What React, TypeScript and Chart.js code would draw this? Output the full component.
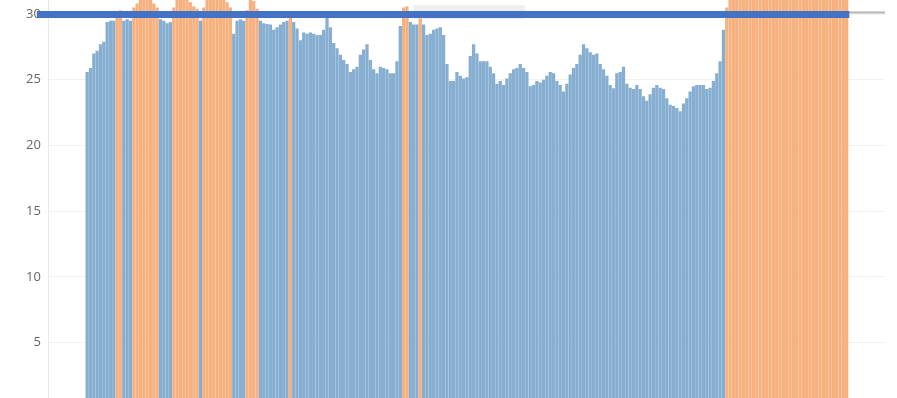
import React, { useEffect, useRef } from "react";
import { Chart, registerables } from "chart.js";

Chart.register(...registerables);

// Daily readings (blue when at/below threshold, orange when above)
const readings: number[] = [
  25.6, 25.9, 27.0, 27.2, 27.7, 27.9, 29.4, 29.5, 29.5, 30.2,
  30.3, 29.5, 29.6, 29.5, 30.5, 30.8, 31.4, 31.8, 31.6, 31.3,
  30.8, 30.5, 29.6, 29.5, 29.3, 29.4, 30.5, 31.2, 31.6, 31.5,
  31.1, 30.9, 30.6, 30.4, 29.5, 30.5, 31.2, 31.6, 31.8, 31.7,
  31.4, 31.2, 30.9, 30.5, 28.5, 29.5, 29.6, 29.5, 30.3, 31.3,
  31.0, 30.4, 29.5, 29.3, 29.25, 29.2, 28.8, 29.0, 29.2, 29.4,
  29.5, 30.1, 29.4, 28.9, 28.0, 28.6, 28.5, 28.6, 28.5, 28.4,
  28.4, 28.8, 29.8, 29.0, 27.8, 27.4, 26.9, 26.5, 26.2, 25.6,
  25.8, 26.0, 26.9, 27.3, 27.7, 26.5, 25.8, 25.5, 26.0, 25.9,
  25.8, 25.5, 25.5, 26.4, 29.1, 30.5, 30.6, 29.4, 29.2, 29.2,
  30.2, 29.2, 28.4, 28.5, 28.8, 28.9, 29.0, 28.4, 26.2, 24.9,
  24.9, 25.6, 25.3, 25.1, 25.2, 26.8, 27.7, 27.0, 26.4, 26.4,
  26.4, 26.0, 25.5, 24.7, 24.9, 24.6, 25.1, 25.5, 25.8, 25.9,
  26.2, 25.9, 25.6, 24.5, 24.6, 24.9, 24.8, 25.0, 25.3, 25.6,
  25.5, 24.9, 24.6, 24.1, 24.7, 25.4, 25.9, 26.2, 26.9, 27.7,
  27.4, 27.1, 26.9, 27.0, 26.2, 25.8, 25.3, 24.6, 24.35, 25.5,
  25.6, 26.0, 24.7, 24.4, 24.3, 24.6, 24.3, 23.75, 23.4, 23.9,
  24.4, 24.6, 24.4, 24.3, 23.6, 23.1, 23.0, 22.85, 22.6, 23.2,
  23.6, 24.1, 24.5, 24.6, 24.6, 24.6, 24.3, 24.4, 24.9, 25.5,
  26.4, 28.8, 30.5,
  31.2, 31.5, 31.8, 31.6, 31.4, 31.7, 31.9, 31.5, 31.3, 31.6,
  31.8, 31.4, 31.2, 31.5, 31.7, 31.9, 31.6, 31.3, 31.5, 31.8,
  31.6, 31.4, 31.7, 31.5, 31.3, 31.6, 31.8, 31.5, 31.2, 31.4,
  31.7, 31.6, 31.3, 31.5, 31.2, 31.1,
];

const threshold = 30;
const leadingEmpty = 11;
const trailingEmpty = 11;
const yTicks = [5, 10, 15, 20, 25, 30];

const series: (number | null)[] = [
  ...new Array(leadingEmpty).fill(null),
  ...readings,
  ...new Array(trailingEmpty).fill(null),
];
const categories: string[] = series.map((_, i) => String(i + 1));

const BLUE = "#86AED0";
const ORANGE = "#F6B17E";
const LINE = "#4472C4";

const thresholdPlugin = {
  id: "thresholdLine",
  afterDatasetsDraw(chart: any) {
    const { ctx, chartArea, scales } = chart;
    const y = scales.y.getPixelForValue(threshold);
    const xs = scales.x;
    const step = (chartArea.right - chartArea.left) / series.length;
    const lastIdx = leadingEmpty + readings.length - 1;
    const lineEnd = xs.getPixelForValue(lastIdx) + step / 2 + 1;
    ctx.save();
    ctx.fillStyle = "rgba(225,225,225,0.55)";
    ctx.fillRect(xs.getPixelForValue(leadingEmpty + 98), y - 9, 111, 14);
    ctx.strokeStyle = "#b4b4b4";
    ctx.lineWidth = 2;
    ctx.beginPath();
    ctx.moveTo(chartArea.left, y - 1.5);
    ctx.lineTo(chartArea.right, y - 1.5);
    ctx.stroke();
    ctx.strokeStyle = LINE;
    ctx.lineWidth = 7;
    ctx.beginPath();
    ctx.moveTo(chartArea.left - 12, y + 0.5);
    ctx.lineTo(lineEnd, y + 0.5);
    ctx.stroke();
    ctx.restore();
  },
};

export default function App() {
  const ref = useRef<HTMLCanvasElement | null>(null);
  useEffect(() => {
    if (!ref.current) return;
    const chart = new Chart(ref.current, {
      type: "bar",
      data: {
        labels: categories,
        datasets: [
          {
            data: series,
            backgroundColor: (c: any) =>
              c.raw != null && c.raw > threshold ? ORANGE : BLUE,
            barPercentage: 0.98,
            categoryPercentage: 1.0,
            borderWidth: 0,
          },
        ],
      },
      options: {
        animation: false,
        responsive: false,
        devicePixelRatio: 1,
        layout: { padding: { left: 18, right: 12, top: 0, bottom: 0 } },
        plugins: { legend: { display: false }, tooltip: { enabled: false } },
        scales: {
          x: { display: false },
          y: {
            min: 0,
            max: 32,
            afterBuildTicks: (s: any) => {
              s.ticks = yTicks.map((v) => ({ value: v }));
            },
            ticks: {
              color: "#666",
              padding: 8,
              font: { family: "'Open Sans', sans-serif", size: 13 },
            },
            grid: { color: "#f1f1f1", drawTicks: false },
            border: { display: true, color: "#e8e8e8" },
          },
        },
      },
      plugins: [thresholdPlugin],
    });
    return () => chart.destroy();
  }, []);
  return (
    <div
      style={{
        position: "fixed",
        left: 0,
        top: 0,
        width: 897,
        height: 398,
        overflow: "hidden",
        background: "#fff",
      }}
    >
      <canvas
        ref={ref}
        width={897}
        height={452}
        style={{ position: "absolute", left: 0, top: -28, width: 897, height: 452 }}
      />
    </div>
  );
}
